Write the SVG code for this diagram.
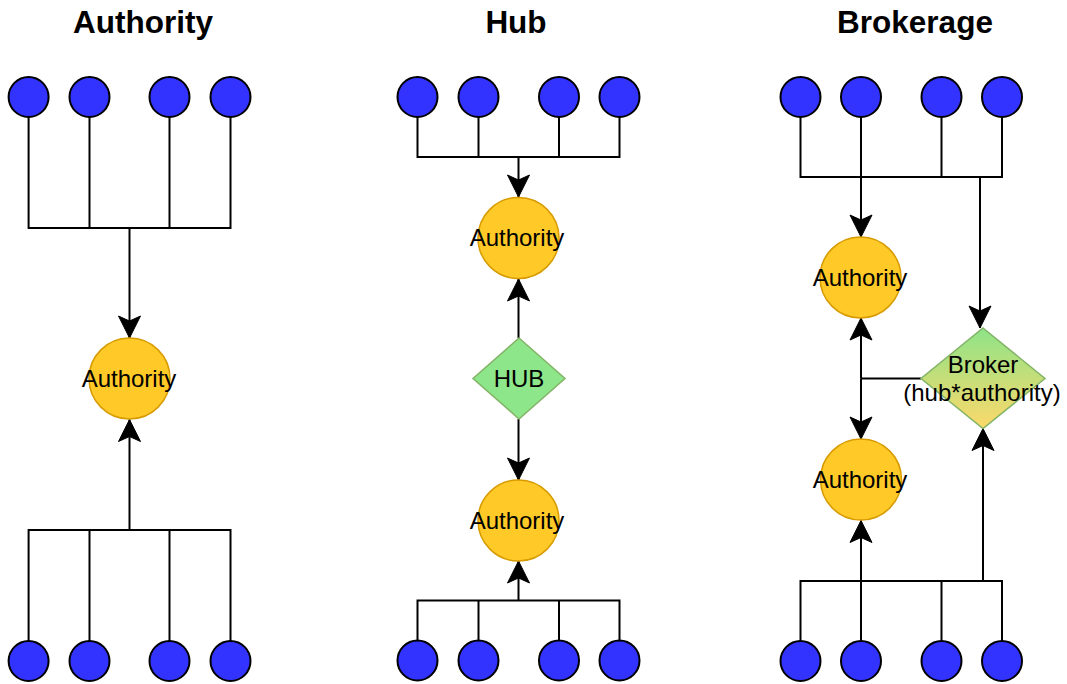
<svg xmlns="http://www.w3.org/2000/svg" width="1067" height="684" viewBox="0 0 1067 684">
<style>
.title{font-family:"Liberation Sans",Arial,sans-serif;font-weight:bold;font-size:31.5px;text-anchor:middle;fill:#000}
.lbl{font-family:"Liberation Sans",Arial,sans-serif;font-size:24px;text-anchor:middle;fill:#000}
.leaf{fill:#3333FF;stroke:#000;stroke-width:2}
.auth{fill:#FFCA28;stroke:#D79B00;stroke-width:1.5}
.hub{fill:#8EE68A;stroke:#82B366;stroke-width:1.5}
.broker{fill:url(#bg);stroke:#82B366;stroke-width:1.5}
.e{fill:none;stroke:#000;stroke-width:2}
.a{marker-end:url(#arr)}
.head{fill:#000;stroke:#000;stroke-width:1}
</style>
<defs>
<marker id="arr" markerUnits="userSpaceOnUse" viewBox="0 0 24 24" markerWidth="24" markerHeight="24" refX="23" refY="12" orient="auto" overflow="visible">
<path class="head" d="M1,1 L23,12 L1,23 L6,12 Z"/>
</marker>
<linearGradient id="bg" x1="0" y1="0" x2="0" y2="1">
<stop offset="0" stop-color="#8EE388"/>
<stop offset="1" stop-color="#FCD96A"/>
</linearGradient>
</defs>

<text class="title" x="143" y="33">Authority</text>
<text class="title" x="516" y="33">Hub</text>
<text class="title" x="915" y="33">Brokerage</text>

<g id="connectors">
<!-- Authority panel -->
<path class="e" d="M28.6,117 V228 H230.5 V117"/>
<path class="e" d="M89.5,117 V228"/>
<path class="e" d="M169.5,117 V228"/>
<path class="e a" d="M129.5,228 V338"/>
<path class="e" d="M28.6,641 V530 H230.5 V641"/>
<path class="e" d="M89.5,641 V530"/>
<path class="e" d="M169.5,641 V530"/>
<path class="e a" d="M129.5,530 V419.5"/>
<!-- Hub panel -->
<path class="e" d="M417.5,117 V157 H619.5 V117"/>
<path class="e" d="M478.5,117 V157"/>
<path class="e" d="M559,117 V157"/>
<path class="e a" d="M518.5,157 V197"/>
<path class="e a" d="M518.5,338 V279"/>
<path class="e a" d="M518.5,419 V480"/>
<path class="e" d="M417.5,640 V600.5 H619.5 V640"/>
<path class="e" d="M478.5,640 V600.5"/>
<path class="e" d="M559,640 V600.5"/>
<path class="e a" d="M518.5,600.5 V561"/>
<!-- Brokerage panel -->
<path class="e" d="M800.5,117 V177 H1002 V117"/>
<path class="e" d="M861,117 V177"/>
<path class="e" d="M941.5,117 V177"/>
<path class="e a" d="M861,177 V237"/>
<path class="e a" d="M980,177 V328"/>
<path class="e" d="M921,378.5 H861"/>
<path class="e a" d="M861,378.5 V318"/>
<path class="e a" d="M861,378.5 V439"/>
<path class="e" d="M800.5,641 V581 H1002 V641"/>
<path class="e" d="M861,641 V581"/>
<path class="e" d="M941.5,641 V581"/>
<path class="e a" d="M861,581 V520.5"/>
<path class="e a" d="M983,581 V428.5"/>
</g>

<!-- Authority panel nodes -->
<g id="a-top-1"><circle class="leaf" cx="28.6" cy="97" r="20"/></g>
<g id="a-top-2"><circle class="leaf" cx="89.5" cy="97" r="20"/></g>
<g id="a-top-3"><circle class="leaf" cx="169.5" cy="97" r="20"/></g>
<g id="a-top-4"><circle class="leaf" cx="230.5" cy="97" r="20"/></g>
<g id="a-authority"><circle class="auth" cx="129.5" cy="378.5" r="40.5"/><text class="lbl" x="129" y="387">Authority</text></g>
<g id="a-bot-1"><circle class="leaf" cx="28.6" cy="661" r="20"/></g>
<g id="a-bot-2"><circle class="leaf" cx="89.5" cy="661" r="20"/></g>
<g id="a-bot-3"><circle class="leaf" cx="169.5" cy="661" r="20"/></g>
<g id="a-bot-4"><circle class="leaf" cx="230.5" cy="661" r="20"/></g>

<!-- Hub panel nodes -->
<g id="h-top-1"><circle class="leaf" cx="417.5" cy="97" r="20"/></g>
<g id="h-top-2"><circle class="leaf" cx="478.5" cy="97" r="20"/></g>
<g id="h-top-3"><circle class="leaf" cx="559" cy="97" r="20"/></g>
<g id="h-top-4"><circle class="leaf" cx="619.5" cy="97" r="20"/></g>
<g id="h-authority-1"><circle class="auth" cx="518.5" cy="238" r="40.5"/><text class="lbl" x="517" y="246">Authority</text></g>
<g id="h-hub"><polygon class="hub" points="519,338 565,378.5 519,419 473,378.5"/><text class="lbl" x="519" y="387">HUB</text></g>
<g id="h-authority-2"><circle class="auth" cx="518.5" cy="520.5" r="40.5"/><text class="lbl" x="517" y="529">Authority</text></g>
<g id="h-bot-1"><circle class="leaf" cx="417.5" cy="660.5" r="20"/></g>
<g id="h-bot-2"><circle class="leaf" cx="478.5" cy="660.5" r="20"/></g>
<g id="h-bot-3"><circle class="leaf" cx="559" cy="660.5" r="20"/></g>
<g id="h-bot-4"><circle class="leaf" cx="619.5" cy="660.5" r="20"/></g>

<!-- Brokerage panel nodes -->
<g id="b-top-1"><circle class="leaf" cx="800.5" cy="97" r="20"/></g>
<g id="b-top-2"><circle class="leaf" cx="861" cy="97" r="20"/></g>
<g id="b-top-3"><circle class="leaf" cx="941.5" cy="97" r="20"/></g>
<g id="b-top-4"><circle class="leaf" cx="1002" cy="97" r="20"/></g>
<g id="b-authority-1"><circle class="auth" cx="860.5" cy="277.5" r="40.5"/><text class="lbl" x="860" y="286">Authority</text></g>
<g id="b-broker"><polygon class="broker" points="983,328 1045,378.5 983,428.5 921,378.5"/><text class="lbl" x="983" y="373">Broker</text><text class="lbl" x="982" y="401">(hub*authority)</text></g>
<g id="b-authority-2"><circle class="auth" cx="861" cy="479.5" r="40.5"/><text class="lbl" x="860" y="488">Authority</text></g>
<g id="b-bot-1"><circle class="leaf" cx="800.5" cy="661" r="20"/></g>
<g id="b-bot-2"><circle class="leaf" cx="861" cy="661" r="20"/></g>
<g id="b-bot-3"><circle class="leaf" cx="941.5" cy="661" r="20"/></g>
<g id="b-bot-4"><circle class="leaf" cx="1002" cy="661" r="20"/></g>
</svg>
